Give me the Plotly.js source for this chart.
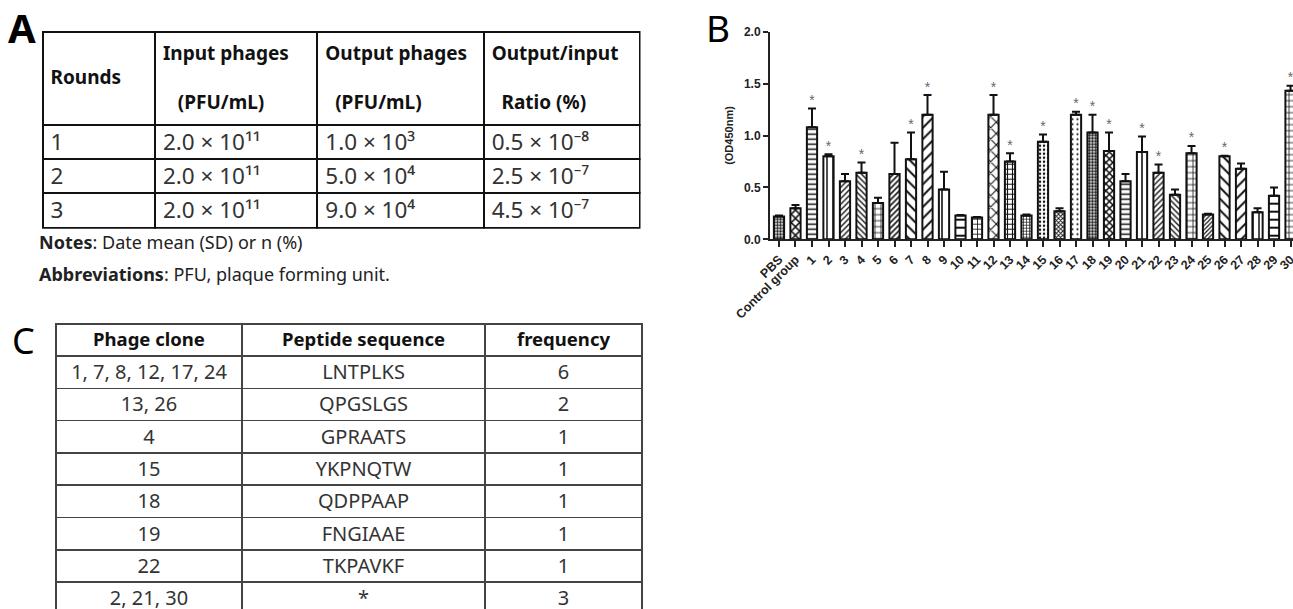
<!DOCTYPE html>
<html>
<head>
<meta charset="utf-8">
<script src="https://cdn.plot.ly/plotly-3.0.1.min.js"></script>
<style>html,body{margin:0;padding:0;background:#fff;overflow:hidden}</style>
</head>
<body>
<div id="chart" style="width:1293px;height:609px"></div>
<script>
// ---------- Panel A data ----------
const tableAHeader = ['Rounds', 'Input phages', 'Output phages', 'Output/input'];
const tableAHeaderUnits = ['', '(PFU/mL)', '(PFU/mL)', 'Ratio (%)'];
const rounds = ['1', '2', '3'];
const inputPhages = ['2.0 × 10¹¹', '2.0 × 10¹¹', '2.0 × 10¹¹'];
const outputPhages = ['1.0 × 10³', '5.0 × 10⁴', '9.0 × 10⁴'];
const outputInputRatio = ['0.5 × 10⁻⁸', '2.5 × 10⁻⁷', '4.5 × 10⁻⁷'];
const notesText = '<b>Notes</b>: Date mean (SD) or n (%)';
const abbrevText = '<b>Abbreviations</b>: PFU, plaque forming unit.';

// ---------- Panel B data ----------
const groups = ['PBS', 'Control group', '1', '2', '3', '4', '5', '6', '7', '8', '9', '10',
  '11', '12', '13', '14', '15', '16', '17', '18', '19', '20', '21', '22', '23', '24',
  '25', '26', '27', '28', '29', '30'];
const od450 = [0.22, 0.30, 1.08, 0.80, 0.56, 0.64, 0.35, 0.63, 0.77, 1.20, 0.48, 0.23,
  0.21, 1.20, 0.75, 0.23, 0.94, 0.27, 1.20, 1.03, 0.85, 0.56, 0.84, 0.64, 0.43, 0.83,
  0.24, 0.80, 0.68, 0.26, 0.42, 1.43];
const od450SD = [0.01, 0.03, 0.18, 0.02, 0.07, 0.10, 0.05, 0.30, 0.26, 0.19, 0.17, 0.005,
  0.005, 0.19, 0.08, 0.01, 0.07, 0.03, 0.03, 0.17, 0.18, 0.07, 0.15, 0.08, 0.05, 0.07,
  0.005, 0.005, 0.05, 0.04, 0.08, 0.05];
const significant = ['1', '2', '4', '7', '8', '12', '13', '15', '17', '18', '19', '21',
  '22', '24', '26', '30'];

// ---------- Panel C data ----------
const tableCHeader = ['Phage clone', 'Peptide sequence', 'frequency'];
const phageClones = ['1, 7, 8, 12, 17, 24', '13, 26', '4', '15', '18', '19', '22', '2, 21, 30'];
const peptideSeqs = ['LNTPLKS', 'QPGSLGS', 'GPRAATS', 'YKPNQTW', 'QDPPAAP', 'FNGIAAE', 'TKPAVKF', '*'];
const frequencies = ['6', '2', '1', '1', '1', '1', '1', '3'];

// ---------- styles (not data) ----------
const patShape = ['.', 'x', '-', '|', '/', '\\', '+', '/', '\\', '/', '|', '-',
  '+', 'x', '+', '+', '.', 'x', '.', '.', 'x', '-', '|', '/', '\\', '+',
  '/', '\\', '/', '|', '-', '+'];
const patSize = [3, 6, 5, 6, 4, 4, 6, 4, 8, 8, 8, 8,
  5, 8, 5, 3, 4, 3, 5, 3, 5, 5, 8, 4, 4, 6,
  3, 8, 8, 6, 8, 6];
const patSolid = [0.55, 0.45, 0.3, 0.25, 0.35, 0.35, 0.25, 0.4, 0.25, 0.25, 0.2, 0.25,
  0.3, 0.25, 0.4, 0.4, 0.3, 0.5, 0.15, 0.6, 0.5, 0.3, 0.2, 0.35, 0.35, 0.25,
  0.4, 0.25, 0.25, 0.25, 0.25, 0.25];

const W = 1293, H = 609;
const px = v => v / W;
const py = v => 1 - v / H;
const nb = '\u00a0';

const sigY = significant.map(g => {
  const i = groups.indexOf(g);
  return od450[i] + od450SD[i];
});

const traces = [
  {
    type: 'table',
    domain: {x: [px(42.5), px(640)], y: [py(229), py(31.7)]},
    columnwidth: [112.5, 162.5, 166.5, 156],
    header: {
      values: [
        nb + '<br>' + tableAHeader[0],
        tableAHeader[1] + '<br>' + nb + '<br>' + nb + nb + nb + tableAHeaderUnits[1],
        tableAHeader[2] + '<br>' + nb + '<br>' + nb + nb + tableAHeaderUnits[2],
        tableAHeader[3] + '<br>' + nb + '<br>' + nb + nb + tableAHeaderUnits[3]
      ],
      align: 'left',
      height: 93,
      font: {family: 'Noto Sans', size: 19, color: '#111', weight: 'bold'},
      line: {color: '#111', width: 2},
      fill: {color: '#fff'}
    },
    cells: {
      values: [rounds, inputPhages, outputPhages, outputInputRatio],
      align: 'left',
      height: 34.3,
      font: {family: 'Noto Sans', size: 22.5, color: '#333'},
      line: {color: '#111', width: 2},
      fill: {color: '#fff'}
    }
  },
  {
    type: 'table',
    domain: {x: [px(56), px(642)], y: [0, py(324)]},
    columnwidth: [186, 243, 157],
    header: {
      values: tableCHeader,
      align: 'center',
      height: 32,
      font: {family: 'Noto Sans', size: 18.5, color: '#111', weight: 'bold'},
      line: {color: '#444', width: 1.5},
      fill: {color: '#fff'}
    },
    cells: {
      values: [phageClones, peptideSeqs, frequencies],
      align: 'center',
      height: 32.3,
      font: {family: 'Noto Sans', size: 20, color: '#333'},
      line: {color: '#444', width: 1.5},
      fill: {color: '#fff'}
    }
  },
  {
    type: 'bar',
    x: groups,
    y: od450,
    width: 0.62,
    marker: {
      color: '#fff',
      line: {color: '#111', width: 2},
      pattern: {shape: patShape, size: patSize, solidity: patSolid, fgcolor: '#111', bgcolor: '#fff', fillmode: 'replace'}
    },
    error_y: {
      type: 'data', symmetric: false, array: od450SD, arrayminus: od450SD.map(() => 0),
      color: '#111', thickness: 2, width: 4
    },
    hoverinfo: 'x+y'
  },
  {
    type: 'scatter',
    mode: 'text',
    x: significant,
    y: sigY,
    text: significant.map(() => '*'),
    textposition: 'top center',
    textfont: {family: 'Liberation Sans, Arial', size: 14, color: '#666'},
    cliponaxis: false,
    hoverinfo: 'skip'
  }
];

const layout = {
  width: W, height: H,
  margin: {l: 0, r: 0, t: 0, b: 0},
  paper_bgcolor: '#fff',
  plot_bgcolor: 'rgba(0,0,0,0)',
  showlegend: false,
  font: {family: 'Liberation Sans, Arial', color: '#222'},
  xaxis: {
    domain: [px(770), 1],
    type: 'category',
    range: [-0.545, 31.15],
    showline: true, linecolor: '#222', linewidth: 2,
    ticks: 'outside', ticklen: 6, tickwidth: 2, tickcolor: '#222',
    tickangle: -45,
    tickfont: {family: 'Liberation Sans, Arial', size: 12.5, color: '#222', weight: 'bold'},
    showgrid: false, zeroline: false,
    fixedrange: true
  },
  yaxis: {
    domain: [py(239.3), py(31.7)],
    range: [0, 2.0],
    tickvals: [0, 0.5, 1.0, 1.5, 2.0],
    tickformat: '.1f',
    showline: true, linecolor: '#222', linewidth: 2,
    ticks: 'outside', ticklen: 5, tickwidth: 2, tickcolor: '#222',
    tickfont: {family: 'Liberation Sans, Arial', size: 12, color: '#222', weight: 'bold'},
    showgrid: false, zeroline: false,
    title: {text: '(OD450nm)', font: {family: 'Liberation Sans, Arial', size: 11, color: '#222', weight: 'bold'}, standoff: 8},
    fixedrange: true
  },
  annotations: [
    {text: '<b>A</b>', xref: 'paper', yref: 'paper', x: px(21.5), y: py(28), xanchor: 'center', yanchor: 'middle', showarrow: false,
      font: {family: 'Noto Sans', size: 40, color: '#000'}},
    {text: 'B', xref: 'paper', yref: 'paper', x: px(718), y: py(27), xanchor: 'center', yanchor: 'middle', showarrow: false,
      font: {family: 'Noto Sans', size: 37, color: '#000'}},
    {text: 'C', xref: 'paper', yref: 'paper', x: px(23), y: py(340), xanchor: 'center', yanchor: 'middle', showarrow: false,
      font: {family: 'Noto Sans', size: 36, color: '#000'}},
    {text: notesText, xref: 'paper', yref: 'paper', x: px(37), y: py(242), xanchor: 'left', yanchor: 'middle', showarrow: false,
      font: {family: 'Noto Sans', size: 18, color: '#222'}},
    {text: abbrevText, xref: 'paper', yref: 'paper', x: px(37), y: py(274), xanchor: 'left', yanchor: 'middle', showarrow: false,
      font: {family: 'Noto Sans', size: 18, color: '#222'}}
  ]
};

Plotly.newPlot('chart', traces, layout, {displayModeBar: false, staticPlot: true});
</script>
</body>
</html>
